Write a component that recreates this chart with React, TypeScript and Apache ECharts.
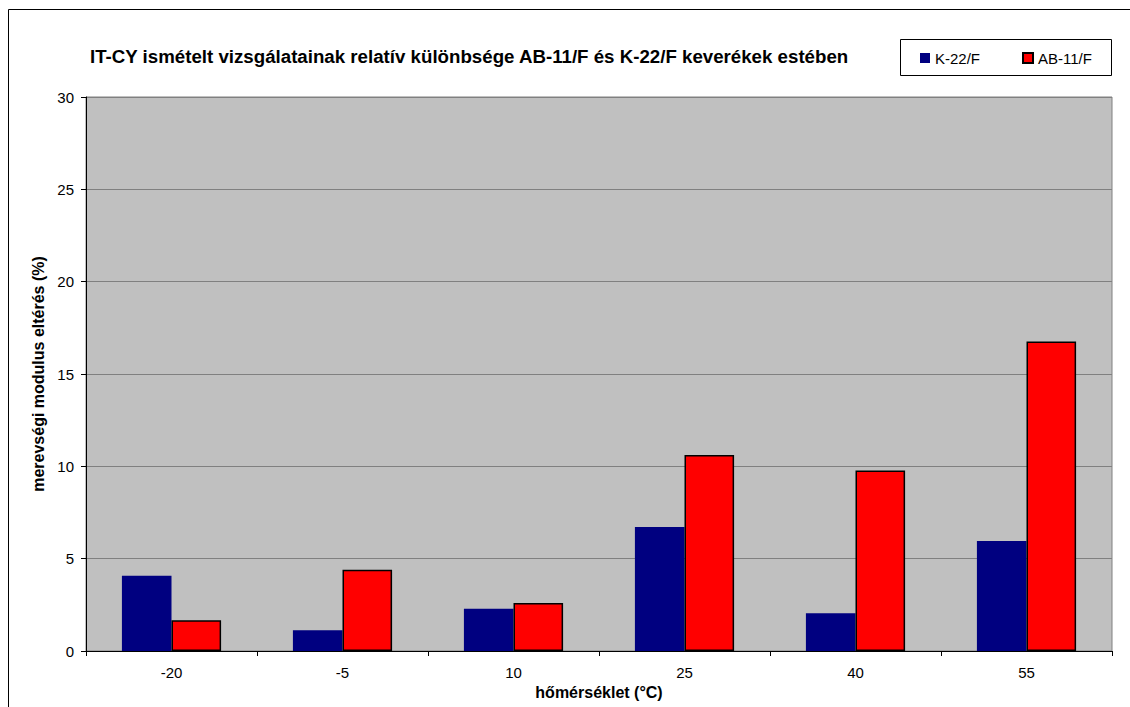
import React, { useEffect, useRef } from "react";
import * as echarts from "echarts";

const temperatures = ["-20", "-5", "10", "25", "40", "55"];
const k22Values = [4.07, 1.13, 2.29, 6.72, 2.04, 5.96];
const ab11Values = [1.67, 4.4, 2.6, 10.61, 9.77, 16.76];
const seriesNames = ["K-22/F", "AB-11/F"];
const yTicks = { min: 0, max: 30, interval: 5 };

const FONT = '"Liberation Sans", Arial, sans-serif';

export default function App() {
  const ref = useRef<HTMLDivElement>(null);

  useEffect(() => {
    if (!ref.current) return;
    const chart = echarts.init(ref.current, null, { renderer: "svg" });
    chart.setOption({
      animation: false,
      backgroundColor: "#ffffff",
      textStyle: { fontFamily: FONT },
      title: {
        text: "IT-CY ismételt vizsgálatainak relatív különbsége AB-11/F és K-22/F keverékek estében",
        left: 90,
        top: 47,
        padding: 0,
        textStyle: { fontFamily: FONT, fontSize: 18.7, fontWeight: "bold", color: "#000" },
      },
      legend: {
        left: 920,
        top: 50,
        padding: 0,
        itemWidth: 10,
        itemHeight: 10,
        itemGap: 42,
        icon: "rect",
        textStyle: { fontFamily: FONT, fontSize: 15, color: "#000", lineHeight: 16 },
        data: seriesNames,
      },
      graphic: [
        {
          type: "rect",
          shape: { x: 8.5, y: 9.5, width: 1300, height: 1000 },
          style: { fill: "none", stroke: "#000", lineWidth: 1 },
          silent: true,
        },
        {
          type: "rect",
          shape: { x: 900.5, y: 39.5, width: 211, height: 36 },
          style: { fill: "#fff", stroke: "#000", lineWidth: 1 },
          silent: true,
          z: -1,
        },
      ],
      grid: {
        left: 86,
        top: 97,
        right: 18,
        bottom: 56,
        show: true,
        backgroundColor: "#C0C0C0",
        borderColor: "#808080",
        borderWidth: 1,
      },
      xAxis: {
        type: "category",
        data: temperatures,
        name: "hőmérséklet (°C)",
        nameLocation: "middle",
        nameGap: 30,
        nameTextStyle: { fontFamily: FONT, fontSize: 16, fontWeight: "bold", color: "#000" },
        axisLine: { lineStyle: { color: "#000", width: 1 } },
        axisTick: { show: true, length: 5, lineStyle: { color: "#000" } },
        axisLabel: { margin: 14, fontFamily: FONT, fontSize: 15, color: "#000" },
        splitLine: { show: false },
      },
      yAxis: {
        type: "value",
        min: yTicks.min,
        max: yTicks.max,
        interval: yTicks.interval,
        name: "merevségi modulus eltérés (%)",
        nameLocation: "middle",
        nameGap: 38,
        nameTextStyle: { fontFamily: FONT, fontSize: 16, fontWeight: "bold", color: "#000" },
        axisLine: { show: true, lineStyle: { color: "#000", width: 1 } },
        axisTick: { show: true, length: 5, lineStyle: { color: "#000" } },
        axisLabel: { margin: 12, fontFamily: FONT, fontSize: 15, color: "#000" },
        splitLine: { show: true, lineStyle: { color: "#808080", width: 1 } },
      },
      series: [
        {
          name: seriesNames[0],
          type: "bar",
          data: k22Values,
          barGap: "0%",
          barCategoryGap: "42%",
          itemStyle: { color: "#000080", borderColor: "#000080", borderWidth: 0 },
        },
        {
          name: seriesNames[1],
          type: "bar",
          data: ab11Values,
          barGap: "0%",
          barCategoryGap: "42%",
          itemStyle: { color: "#FF0000", borderColor: "#000", borderWidth: 1.5 },
        },
      ],
    });
    return () => chart.dispose();
  }, []);

  return (
    <div
      ref={ref}
      style={{ position: "absolute", left: 0, top: 0, width: 1130, height: 707 }}
    />
  );
}
